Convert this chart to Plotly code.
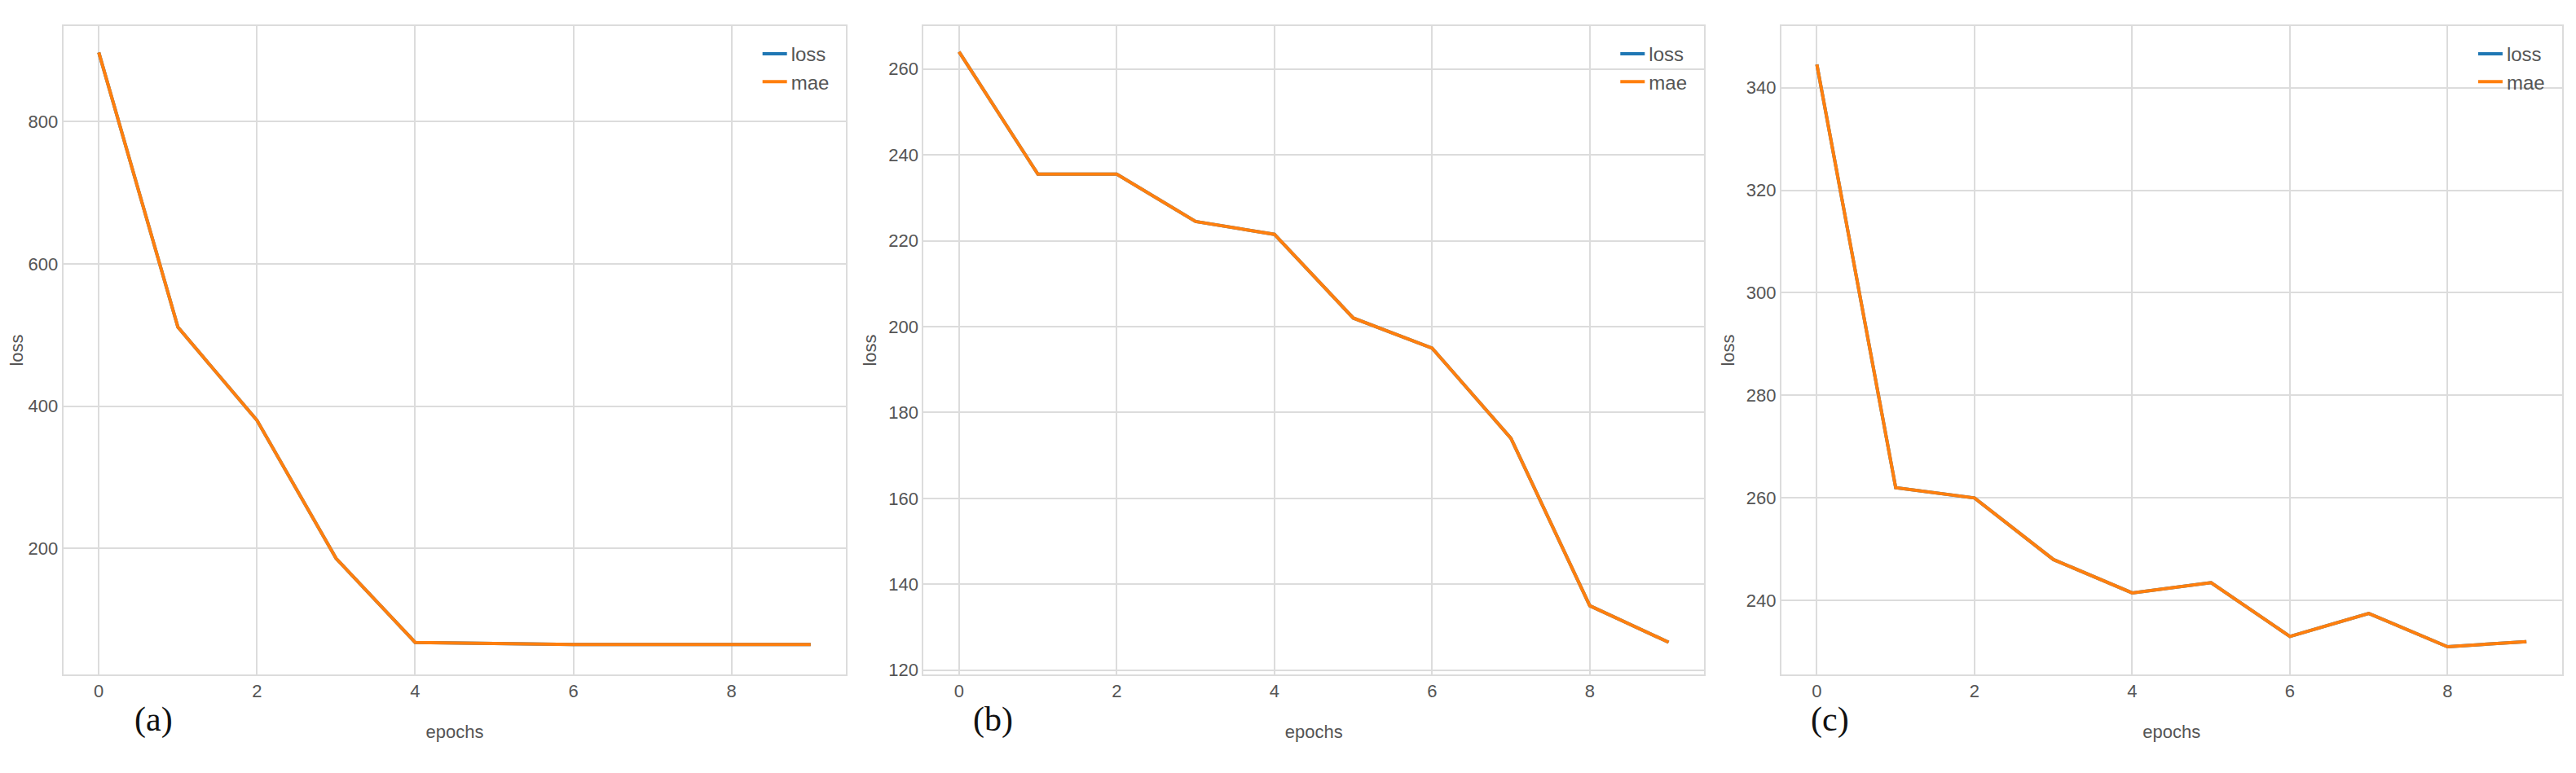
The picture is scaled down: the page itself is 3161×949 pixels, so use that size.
import plotly.graph_objects as go
from plotly.subplots import make_subplots

epochs = list(range(10))
loss_a = [897, 511, 380, 186, 68, 66, 65, 65, 65, 65]
loss_b = [264, 235.5, 235.5, 224.5, 221.5, 202, 195, 174, 135, 126.5]
loss_c = [344.5, 262, 260, 248, 241.5, 243.5, 233, 237.5, 231, 232]
panels = [loss_a, loss_b, loss_c]
panel_labels = ["(a)", "(b)", "(c)"]
yranges = [[23, 934], [119, 270], [225.6, 352]]
yticks = [[200, 400, 600, 800], [120, 140, 160, 180, 200, 220, 240, 260], [240, 260, 280, 300, 320, 340]]

fig = make_subplots(rows=1, cols=3, horizontal_spacing=0.0)
doms = [[0.022, 0.326], [0.356, 0.659], [0.689, 0.992]]
font = dict(family="Liberation Sans Narrow, Liberation Sans, Arial", size=22, color="#555")
for i, vals in enumerate(panels):
    lg = f"legend{'' if i==0 else i+1}"
    fig.add_trace(go.Scatter(x=epochs, y=vals, mode="lines", name="loss",
                             line=dict(color="#1f77b4", width=4), legend=lg), row=1, col=i+1)
    fig.add_trace(go.Scatter(x=epochs, y=vals, mode="lines", name="mae",
                             line=dict(color="#ff7f0e", width=4), legend=lg), row=1, col=i+1)
    ax = "" if i == 0 else str(i+1)
    fig.layout[f"xaxis{ax}"].update(domain=doms[i], range=[-0.45, 9.45], tickvals=[0, 2, 4, 6, 8],
        showgrid=True, gridcolor="#dcdcdc", gridwidth=2, zeroline=False, showline=True, linecolor="#dcdcdc",
        linewidth=2, mirror=True, tickfont=font, title=dict(text="epochs", font=font, standoff=30), ticks="",
        automargin=False)
    fig.layout[f"yaxis{ax}"].update(range=yranges[i], tickvals=yticks[i],
        showgrid=True, gridcolor="#dcdcdc", gridwidth=2, zeroline=False, showline=True, linecolor="#dcdcdc",
        linewidth=2, mirror=True, tickfont=font, title=dict(text="loss", font=font, standoff=8), ticks="",
        automargin=False)
    fig.layout[lg] = dict(x=doms[i][1] - 0.005, y=0.985, xanchor="right", yanchor="top",
                          bgcolor="rgba(0,0,0,0)", font=dict(family=font["family"], size=24, color="#555"))
    fig.add_annotation(text=panel_labels[i], xref="paper", yref="paper",
                       x=doms[i][0] + 0.027, y=-0.07, showarrow=False, yanchor="middle",
                       font=dict(family="Liberation Serif, DejaVu Serif", size=42, color="#111"))

fig.update_layout(width=3161, height=949, plot_bgcolor="white", paper_bgcolor="white",
                  margin=dict(l=0, r=0, t=24, b=129, autoexpand=False), showlegend=True)
fig.write_html("out.html")
